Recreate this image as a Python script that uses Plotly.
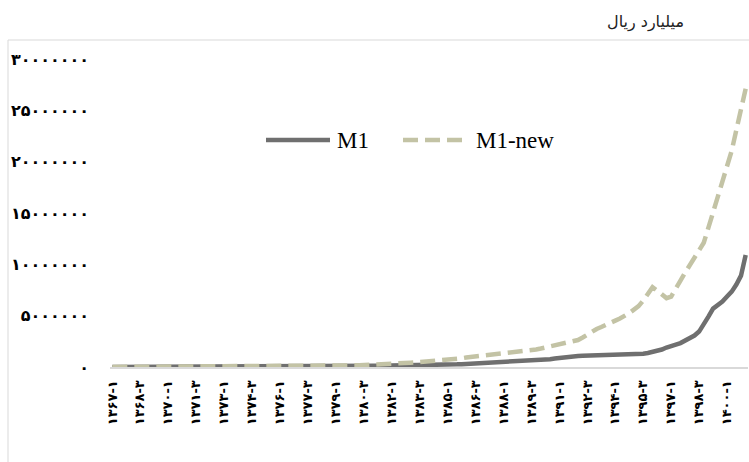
import plotly.graph_objects as go

FA = str.maketrans("0123456789", "۰۱۲۳۴۵۶۷۸۹")

def fa(s):
    return str(s).translate(FA)

# quarters 1367-1 .. 1401-1
start_year = 1367
n_points = 137
categories = [fa(f"{start_year + k // 4}-{k % 4 + 1}") for k in range(n_points)]

# M1 (billion rials)
m1 = [
    5000, 5300, 5600, 5900, 6300, 6700, 7100, 7500, 8000, 8500,
    9000, 9500, 10100, 10700, 11400, 12100, 12800, 13600, 14400, 15300,
    16200, 17200, 18300, 19400, 20600, 21800, 23100, 24500, 26000, 27600,
    29300, 31100, 33000, 35000, 37100, 39300, 41700, 44200, 46900, 49700,
    52700, 55900, 59200, 62700, 66400, 70300, 74400, 78700, 83200, 87900,
    92000, 95500, 99000, 102500, 106000, 109000, 112000, 114500, 117000, 119000,
    121000, 128000, 136000, 143000, 150000, 157000, 164000, 172000, 180000, 190000,
    200000, 210000, 222000, 238000, 256000, 276000, 298000, 318000, 338000, 360000,
    380000, 400000, 420000, 438000, 455000, 472000, 490000, 510000, 530000, 550000,
    572000, 610000, 650000, 700000, 760000, 830000, 900000, 950000, 1000000, 1040000,
    1075000, 1090000, 1100000, 1105000, 1110000, 1120000, 1130000, 1140000, 1150000, 1160000,
    1170000, 1190000, 1220000, 1260000, 1300000, 1370000, 1450000, 1570000, 1700000, 1900000,
    1990000, 2190000, 2330000, 2580000, 2820000, 3060000, 3450000, 4130000, 4910000, 5690000,
    6030000, 6370000, 6860000, 7340000, 8030000, 8900000, 10900000,
]

# M1-new (billion rials)
m1_new = [
    9000, 9500, 10000, 10600, 11200, 11800, 12500, 13200, 14000, 14800,
    15600, 16500, 17400, 18400, 19500, 20600, 21800, 23000, 24300, 25700,
    27200, 28700, 30300, 32000, 33800, 35700, 37700, 39800, 42000, 44400,
    46900, 49500, 52300, 55200, 58300, 61600, 65000, 68600, 72400, 76400,
    80600, 85000, 89700, 94600, 99800, 105000, 111000, 117000, 124000, 131000,
    140000, 150000, 161000, 173000, 186000, 200000, 215000, 231000, 248000, 266000,
    290000, 315000, 340000, 370000, 410000, 440000, 470000, 500000, 530000, 560000,
    600000, 640000, 670000, 720000, 780000, 850000, 920000, 970000, 1020000, 1060000,
    1090000, 1130000, 1170000, 1240000, 1310000, 1360000, 1410000, 1460000, 1510000, 1560000,
    1620000, 1710000, 1800000, 1900000, 1990000, 2090000, 2190000, 2310000, 2430000, 2530000,
    2630000, 2870000, 3160000, 3450000, 3700000, 3890000, 4130000, 4330000, 4520000, 4720000,
    4960000, 5250000, 5590000, 5930000, 6470000, 7150000, 7780000, 7440000, 7000000, 6710000,
    6860000, 7730000, 8410000, 9190000, 9870000, 10550000, 11240000, 12100000, 13570000, 15130000,
    16590000, 18140000, 19600000, 21060000, 23100000, 25240000, 27100000,
]

x_tick_vals = categories[::6]
x_tick_text = categories[::6]

y_tick_vals = [0, 5000000, 10000000, 15000000, 20000000, 25000000, 30000000]
y_tick_text = ["۰", "۵۰۰۰۰۰۰", "۱۰۰۰۰۰۰۰", "۱۵۰۰۰۰۰۰", "۲۰۰۰۰۰۰۰", "۲۵۰۰۰۰۰۰", "۳۰۰۰۰۰۰۰"]

unit_title = "میلیارد ریال"
series_names = ["M1", "M1-new"]

C_M1 = "#6f6f6f"
C_NEW = "#c3c3a5"
GRID = "#d9d9d9"

fig = go.Figure()
fig.add_trace(go.Scatter(x=categories, y=m1, mode="lines", name=series_names[0],
                         line=dict(color=C_M1, width=4.5), showlegend=False))
fig.add_trace(go.Scatter(x=categories, y=m1_new, mode="lines", name=series_names[1],
                         line=dict(color=C_NEW, width=4.5, dash="15px,7px"), showlegend=False))

L, R, T, B = 110, 1, 59, 95
W, H = 749, 462
pw = W - L - R
ph = H - T - B

def px(xp):
    return (xp - L) / pw

def py(yp):
    return (H - B - yp) / ph

shapes = [
    # chart border (top and left)
    dict(type="line", xref="paper", yref="paper", x0=px(8), x1=px(749), y0=py(40), y1=py(40),
         line=dict(color=GRID, width=1)),
    dict(type="line", xref="paper", yref="paper", x0=px(8), x1=px(8), y0=py(40), y1=py(462),
         line=dict(color=GRID, width=1)),
    # legend samples
    dict(type="line", xref="paper", yref="paper", x0=px(266), x1=px(330), y0=py(140), y1=py(140),
         line=dict(color=C_M1, width=4.5)),
    dict(type="line", xref="paper", yref="paper", x0=px(403), x1=px(463), y0=py(140), y1=py(140),
         line=dict(color=C_NEW, width=4.5, dash="15px,7px")),
]

annotations = [
    dict(text=unit_title, xref="paper", yref="paper", x=px(686), y=py(22), xanchor="right",
         yanchor="middle", showarrow=False, font=dict(family="DejaVu Sans", size=16, color="#222")),
    dict(text=series_names[0], xref="paper", yref="paper", x=px(335), y=py(140), xanchor="left",
         yanchor="middle", showarrow=False, font=dict(family="Liberation Serif", size=23, color="#000")),
    dict(text=series_names[1], xref="paper", yref="paper", x=px(474), y=py(140), xanchor="left",
         yanchor="middle", showarrow=False, font=dict(family="Liberation Serif", size=23, color="#000")),
]

fig.update_layout(
    width=W, height=H,
    margin=dict(l=L, r=R, t=T, b=B, pad=0),
    paper_bgcolor="white", plot_bgcolor="white",
    shapes=shapes, annotations=annotations,
    showlegend=False,
    xaxis=dict(
        type="category", range=[-0.5, n_points - 0.5],
        tickmode="array", tickvals=x_tick_vals, ticktext=x_tick_text,
        tickangle=-90, ticks="", showgrid=False, zeroline=False,
        showline=True, linecolor=GRID, linewidth=2,
        tickfont=dict(family="DejaVu Sans", size=13, color="#000", weight="bold"),
        ticklabelstandoff=6,
    ),
    yaxis=dict(
        range=[0, 30000000], tickmode="array", tickvals=y_tick_vals, ticktext=y_tick_text,
        showgrid=False, zeroline=False, showline=False, ticks="",
        tickfont=dict(family="DejaVu Sans", size=16, color="#000", weight="bold"),
        ticklabelstandoff=20,
    ),
)

fig.write_html("out.html", config={"displayModeBar": False},
               post_script="document.body.style.margin='0';")
